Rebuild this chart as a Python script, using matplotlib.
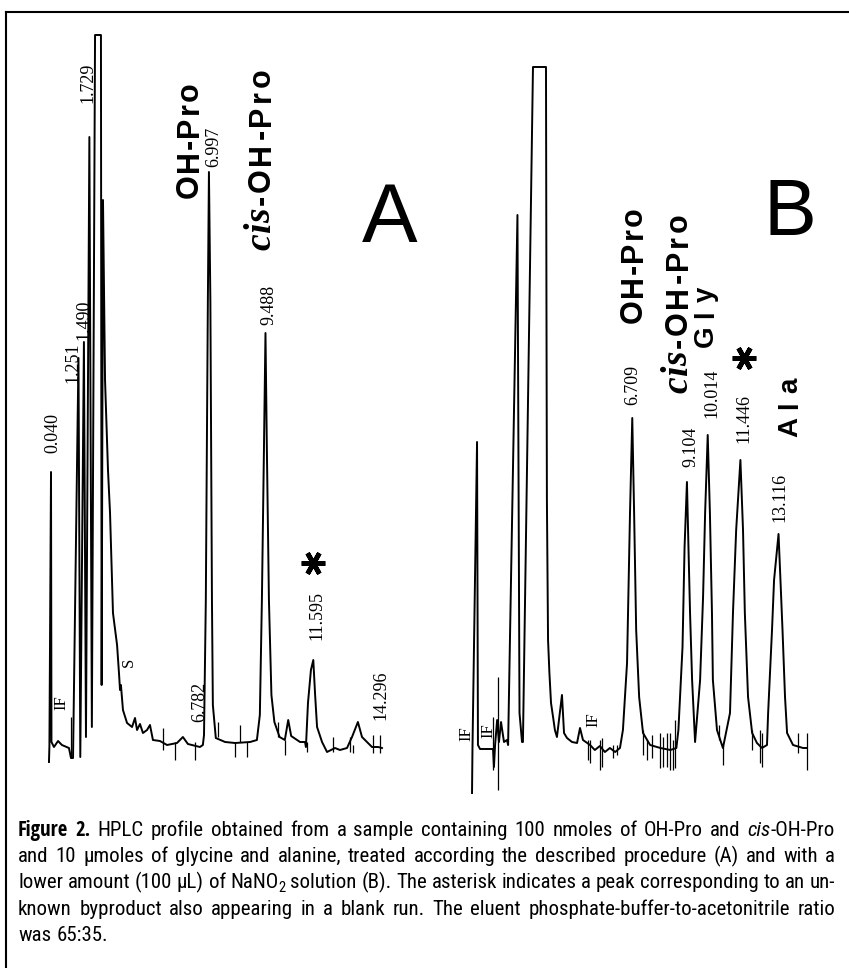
import matplotlib
matplotlib.use("Agg")
import matplotlib.pyplot as plt
from matplotlib.lines import Line2D
from matplotlib import font_manager as fm
from matplotlib.font_manager import FontProperties

# ---------------- data ----------------
# Panel A chromatogram: retention time (min) and detector signal (arbitrary units)
a_time = [-0.05, -0.03, 0.04, 0.06, 0.17, 0.35, 0.52, 0.83, 0.92, 1.01,
          1.25, 1.33, 1.49, 1.58, 1.73, 1.84, 1.98, 2.24, 2.27, 2.33,
          2.42, 2.55, 2.64, 2.77, 2.95, 3.04, 3.08, 3.12, 3.21, 3.39,
          3.61, 3.74, 3.83, 3.96, 4.09, 4.27, 4.40, 4.53, 4.84, 5.15,
          5.59, 5.85, 6.07, 6.60, 6.73, 6.78, 6.86, 6.95, 6.997, 7.06,
          7.13, 7.17, 7.30, 7.71, 8.15, 8.81, 9.11, 9.24, 9.33, 9.42,
          9.488, 9.55, 9.64, 9.75, 9.88, 10.11, 10.34, 10.49, 10.62, 11.01,
          11.23, 11.27, 11.36, 11.49, 11.595, 11.67, 11.76, 11.98, 12.20, 12.55,
          12.77, 13.08, 13.30, 13.56, 13.74, 13.96, 14.18, 14.45, 14.62]
a_signal = [-17, -1, 273, 3, -2, 4, 0, -3, -13, -13,
            387, -12, 403, 8, 608, 18, 710, 710, 60, 545,
            365, 275, 232, 132, 100, 70, 55, 60, 35, 22,
            18, 27, 15, 21, 12, 15, 20, 5, 4, 0,
            2, 8, 1, -2, 0, 10, 145, 445, 573, 445,
            145, 40, 7, 3, 2, 3, 5, 30, 145, 295,
            412, 295, 145, 50, 23, 8, 5, 25, 9, 3,
            3, -2, 42, 75, 85, 52, 18, 3, -7, -3,
            -5, -3, 8, 23, 8, 3, -2, -2, -3]
# integrator event marks in panel A (time, top, bottom)
a_tick_time = [0.92, 4.97, 5.50, 6.38, 7.40, 8.14, 8.37, 8.67, 10.04, 10.35,
               11.32, 12.46, 13.21, 13.34, 14.22, 14.53]
a_tick_top = [28, 17, 3, 3, 23, 3, 20, 3, 23, 5, 3, 8, 8, 0, 10, 10]
a_tick_bottom = [-13, -5, -15, -15, 8, -12, 3, -12, 8, -10, -7, -7, -7, -8, -8, -8]
a_peak_labels = ["0.040", "1.251", "1.490", "1.729", "6.782", "6.997", "9.488", "11.595", "14.296"]

# Panel B chromatogram
b_time = [-0.31, -0.29, -0.09, -0.05, 0.04, 0.61, 0.65, 0.70, 0.79, 0.87,
          0.96, 1.09, 1.22, 1.27, 1.68, 1.77, 1.88, 1.92, 2.36, 2.93,
          2.95, 2.97, 3.02, 3.08, 3.15, 3.24, 3.32, 3.41, 3.63, 3.72,
          3.85, 4.07, 4.29, 4.42, 4.55, 4.86, 5.07, 5.29, 5.51, 5.73,
          5.96, 6.17, 6.30, 6.48, 6.61, 6.709, 6.79, 6.88, 7.01, 7.18,
          7.49, 7.94, 8.38, 8.64, 8.73, 8.91, 9.00, 9.104, 9.17, 9.24,
          9.33, 9.46, 9.68, 9.81, 9.90, 10.014, 10.11, 10.20, 10.24, 10.42,
          10.68, 10.99, 11.12, 11.26, 11.446, 11.56, 11.64, 11.78, 11.96, 12.17,
          12.39, 12.61, 12.66, 12.83, 12.92, 13.116, 13.20, 13.29, 13.40, 13.49,
          13.75, 14.19, 14.36]
b_signal = [-45, 0, 306, 3, -1, -1, -19, 3, 28, 6,
            26, 6, 8, 3, 533, 35, 6, 6, 681, 681,
            448, 248, 108, 75, 45, 31, 18, 11, 53, 15,
            10, 6, 5, 20, 8, 3, -2, 2, -4, 0,
            -4, 0, 18, 85, 235, 330, 235, 118, 51, 15,
            3, 0, -2, 0, 18, 101, 201, 266, 201, 135,
            68, 6, 68, 151, 235, 313, 235, 135, 68, 18,
            0, 35, 135, 218, 288, 218, 135, 51, 15, 5,
            0, 3, 35, 118, 168, 214, 168, 118, 51, 15,
            3, 0, 0]
b_tick_time = [0.61, 0.83, 4.77, 4.86, 5.30, 5.38, 5.87, 6.04, 7.18, 7.36,
               7.58, 7.93, 8.06, 8.24, 8.36, 8.49, 8.58, 10.51, 10.69, 11.96,
               12.31, 12.39, 13.97, 14.36]
b_tick_top = [31, 71, 8, 8, 8, 10, 3, 3, 18, 8, 13, 15, 11, 15, 15, 8, 28, 23, 3, 18,
              18, 15, 15, 15]
b_tick_bottom = [-22, -42, -12, -15, -22, -19, -10, -7, -7, -12, -10, -20, -19, -19, -22,
                 -22, -20, 8, -17, -2, -15, -19, -5, -22]
b_peak_labels = ["6.709", "9.104", "10.014", "11.446", "13.116"]

caption_lines = [
    [("Figure 2.", "b"), (" HPLC profile obtained from a sample containing 100 nmoles of OH-Pro and ", "r"),
     ("cis", "i"), ("-OH-Pro", "r")],
    [("and 10 \u03bcmoles of glycine and alanine, treated according the described procedure (A) and with a", "r")],
    [("lower amount (100 \u03bcL) of NaNO", "r"), ("2", "sub"),
     (" solution (B). The asterisk indicates a peak corresponding to an un-", "r")],
    [("known byproduct also appearing in a blank run. The eluent phosphate-buffer-to-acetonitrile ratio", "r")],
    [("was 65:35.", "r")],
]

# ---------------- figure ----------------
W, H = 849, 968
fig = plt.figure(figsize=(W / 100, H / 100), dpi=100)
fig.patch.set_facecolor("white")
renderer = fig.canvas.get_renderer()

SERIF = "Liberation Serif"
SANS = "Liberation Sans"

# ---- choose a condensed sans for the caption ----
WMAP = {"thin": 100, "extralight": 200, "ultralight": 200, "light": 300, "normal": 400,
        "regular": 400, "book": 400, "medium": 500, "semibold": 600, "demibold": 600,
        "bold": 700, "extrabold": 800, "heavy": 900, "black": 900}


def wnum(w):
    try:
        return int(w)
    except (TypeError, ValueError):
        return WMAP.get(str(w).lower(), 400)


PREFS = ["Noto Sans", "Open Sans", "Roboto", "DejaVu Sans", "Liberation Sans", "Lato", "Inter"]


def prank(name):
    for i, p in enumerate(PREFS):
        if name.startswith(p):
            return i
    return len(PREFS)


def cond_entries():
    out = []
    for f in fm.fontManager.ttflist:
        key = (f.name + " " + str(f.stretch)).lower()
        if ("condensed" in key or "narrow" in key) and "extra" not in key and "ultra" not in key:
            out.append(f)
    return out


ENTRIES = cond_entries()


def pick(target_w, italic, fallback):
    best, bscore = None, 1e9
    for f in ENTRIES:
        is_it = f.style in ("italic", "oblique")
        if is_it != italic:
            continue
        key = (f.name + " " + str(f.stretch)).lower()
        score = abs(wnum(f.weight) - target_w) + prank(f.name) * 15
        if "semi" in key:
            score += 40
        if score < bscore and abs(wnum(f.weight) - target_w) <= 150:
            best, bscore = f, score
    if best is None:
        return fm.findfont(fallback)
    return best.fname


CAP_REG = pick(400, False, FontProperties(family=SANS))
CAP_BOLD = pick(700, False, FontProperties(family=SANS, weight="bold"))
CAP_IT = pick(400, True, FontProperties(family=SANS, style="italic"))


def fx(x):
    return x / W


def fy(y):
    return 1 - y / H


XMIN, XMAX, YMIN, YMAX = -0.8, 15.2, -60, 720


def panel(t0px, ppm, base):
    left = t0px + ppm * XMIN
    right = t0px + ppm * XMAX
    top = base - YMAX
    bottom = base - YMIN
    ax = fig.add_axes([fx(left), fy(bottom), (right - left) / W, (bottom - top) / H])
    ax.set_xlim(XMIN, XMAX)
    ax.set_ylim(YMIN, YMAX)
    ax.set_axis_off()
    return ax


axA = panel(50.1, 22.70, 745)
axB = panel(479.1, 22.83, 748)
for ax, t, s, tt, ttop, tbot in [(axA, a_time, a_signal, a_tick_time, a_tick_top, a_tick_bottom),
                                  (axB, b_time, b_signal, b_tick_time, b_tick_top, b_tick_bottom)]:
    ax.plot(t, s, color="black", lw=1.4, solid_joinstyle="round")
    ax.vlines(tt, tbot, ttop, color="black", lw=0.9)

# frame
fig.add_artist(Line2D([fx(6), fx(849)], [fy(12), fy(12)], color="black", lw=1.5,
                      transform=fig.transFigure))
fig.add_artist(Line2D([fx(6), fx(6)], [fy(12), fy(968)], color="black", lw=1.5,
                      transform=fig.transFigure))


def rtext(xb, yb, s, **kw):
    return fig.text(fx(xb), fy(yb), s, rotation=90, rotation_mode="anchor",
                    ha="left", va="baseline", **kw)


def spaced(xb, yb, ytop, s, **kw):
    arts = [rtext(xb, yb, ch, **kw) for ch in s]
    hs = [a.get_window_extent(renderer).height for a in arts]
    gap = 0.0
    if ytop is not None and len(s) > 1:
        gap = ((yb - ytop) - sum(hs)) / (len(s) - 1)
    y = yb
    for a, h in zip(arts, hs):
        a.set_position((fx(xb), fy(y)))
        y -= h + gap
    return y + gap


# peak retention-time labels (baseline x, bottom y in px)
a_lab_pos = [(57, 453), (77, 383), (88, 340), (92, 103), (204, 722), (218, 167),
             (273, 325), (321, 640), (385, 720)]
for lab, (xb, yb) in zip(a_peak_labels, a_lab_pos):
    rtext(xb, yb, lab, family=SERIF, fontsize=13)
b_lab_pos = [(637, 405), (695, 467), (716, 418), (748, 443), (784, 522)]
for lab, (xb, yb) in zip(b_peak_labels, b_lab_pos):
    rtext(xb, yb, lab, family=SERIF, fontsize=13)

for xb, yb in [(65, 710), (470, 741), (492, 738), (597, 727)]:
    rtext(xb, yb, "IF", family=SERIF, fontsize=12)
rtext(133, 667, "S", family=SERIF, fontsize=12)

# compound labels
bold_sans = dict(family=SANS, weight="bold", fontsize=22)
small_bold = dict(family=SANS, weight="bold", fontsize=20)
cis_font = dict(family=SERIF, weight="bold", style="italic", fontsize=27)
spaced(198, 198, 82, "OH-Pro", **bold_sans)
top = spaced(270, 250, None, "cis", **cis_font)
spaced(270, top - 3, 68, "-OH-Pro", **bold_sans)
spaced(642, 323, 207, "OH-Pro", **bold_sans)
top = spaced(687, 393, None, "cis", **cis_font)
spaced(687, top - 3, 213, "-OH-Pro", **bold_sans)
spaced(713, 347, 287, "Gly", **small_bold)
spaced(797, 437, 378, "Ala", **small_bold)

fig.text(fx(390), fy(242), "A", family=SANS, fontsize=60, ha="center", va="baseline")
fig.text(fx(790), fy(235), "B", family=SANS, fontsize=57, ha="center", va="baseline")
for x, y in [(313, 563), (744, 358)]:
    fig.add_artist(Line2D([fx(x)], [fy(y)], marker=(6, 2, 90), ms=17, mew=3.4, color="black",
                          linestyle="none", transform=fig.transFigure))


# caption
def words_of(runs):
    words, cur = [], []
    for txt, sty in runs:
        parts = txt.split(" ")
        for k, p in enumerate(parts):
            if k > 0 and cur:
                words.append(cur)
                cur = []
            if p:
                cur.append((p, sty))
    if cur:
        words.append(cur)
    return words


def style_fp(sty, size):
    if sty == "b":
        return FontProperties(fname=CAP_BOLD, size=size)
    if sty == "i":
        return FontProperties(fname=CAP_IT, size=size)
    if sty == "sub":
        return FontProperties(fname=CAP_REG, size=size * 0.7)
    return FontProperties(fname=CAP_REG, size=size)


X0, X1 = 18, 835
target = X1 - X0


def measure_line(words, size):
    items = []
    for word in words:
        segs = []
        for txt, sty in word:
            t = fig.text(0, 0, txt, ha="left", va="baseline", fontproperties=style_fp(sty, size))
            segs.append((t, t.get_window_extent(renderer).width, sty))
        items.append(segs)
    return items


base_size = 15.0
all_words = [words_of(r) for r in caption_lines]
nat = []
for words in all_words[:4]:
    items = measure_line(words, base_size)
    w = sum(sum(seg[1] for seg in it) for it in items) + 0.22 * base_size * 100 / 72 * (len(items) - 1)
    nat.append(w)
    for it in items:
        for seg in it:
            seg[0].remove()
size = base_size * 0.99 * target / max(nat) if max(nat) > target else base_size

for i, words in enumerate(all_words):
    yb = 836 + 26.2 * i
    items = measure_line(words, size)
    total = sum(sum(seg[1] for seg in it) for it in items)
    if i < 4:
        gap = (target - total) / (len(items) - 1)
    else:
        gap = 0.25 * size * 100 / 72
    x = X0
    for it in items:
        for t, w, sty in it:
            t.set_position((fx(x), fy(yb + (4 if sty == "sub" else 0))))
            x += w
        x += gap

fig.savefig("out.png", dpi=100, facecolor="white")
